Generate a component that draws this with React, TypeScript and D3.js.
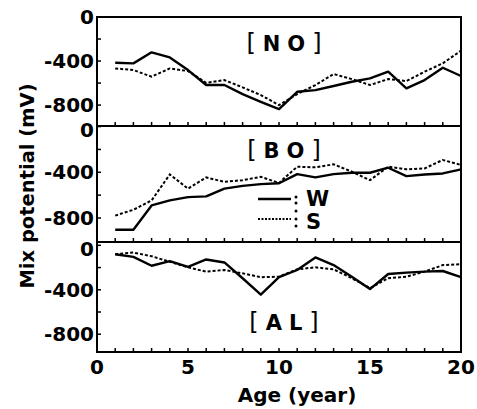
import React from "react";
import * as d3 from "d3";

const years = [1, 2, 3, 4, 5, 6, 7, 8, 9, 10, 11, 12, 13, 14, 15, 16, 17, 18, 19, 20];

const noW = [-415, -421, -321, -367, -482, -618, -618, -700, -770, -836, -679, -664, -627, -588, -558, -497, -648, -573, -461, -536];
const noS = [-467, -482, -542, -467, -491, -597, -573, -639, -709, -800, -700, -618, -518, -564, -618, -564, -582, -497, -421, -306];
const boW = [-903, -903, -690, -646, -617, -611, -543, -519, -504, -496, -416, -445, -416, -404, -404, -360, -434, -419, -410, -374];
const boS = [-779, -728, -646, -419, -543, -445, -484, -469, -440, -493, -351, -357, -330, -395, -469, -351, -374, -366, -292, -336];
const alW = [-80, -104, -184, -142, -193, -127, -154, -296, -444, -287, -222, -109, -178, -282, -394, -258, -246, -237, -231, -287];
const alS = [-80, -65, -98, -148, -198, -237, -222, -252, -287, -282, -216, -198, -216, -296, -385, -296, -282, -237, -178, -169];

const yTickLabels = [0, -400, -800];
const yMinorTicks = [0, -200, -400, -600, -800];
const xTickLabels = [0, 5, 10, 15, 20];
const panelNames = ["N O", "B O", "A L"];
const legendNames = ["W", "S"];

const FONT = "DejaVu Sans";

export default function App() {
  const W = 477, H = 409;
  const left = 97, right = 461;
  const x = d3.scaleLinear().domain([0, 20]).range([left, right]);

  const panels = [
    { name: panelNames[0], w: noW, s: noS, top: 17, bottom: 126, dom: [-990, 0], labelY: 43 },
    { name: panelNames[1], w: boW, s: boS, top: 126, bottom: 242, dom: [-1010, 5], labelY: 150 },
    { name: panelNames[2], w: alW, s: alS, top: 242, bottom: 352, dom: [-960, 30], labelY: 322 },
  ];

  return (
    <svg width={W} height={H} style={{ position: "absolute", left: 0, top: 0, background: "#fff" }} fontFamily={FONT}>
      <rect x={0} y={0} width={W} height={H} fill="#fff" />
      {panels.map((p, pi) => {
        const y = d3.scaleLinear().domain(p.dom).range([p.bottom, p.top]);
        const line = d3.line<number>().x((_, i) => x(years[i])).y((v) => y(v));
        const bracket = p.name.split(" ");
        return (
          <g key={pi}>
            <rect x={left} y={p.top} width={right - left} height={p.bottom - p.top} fill="none" stroke="#000" strokeWidth={2} />
            {years.slice(0, 19).map((yr) => (
              <line key={yr} x1={x(yr)} x2={x(yr)} y1={p.bottom} y2={p.bottom - 4} stroke="#000" strokeWidth={1.5} />
            ))}
            {yMinorTicks.map((t) => (
              <line key={t} x1={left} x2={left + 4} y1={y(t)} y2={y(t)} stroke="#000" strokeWidth={1.5} />
            ))}
            {yTickLabels.map((t) => (
              <text key={t} x={94} y={y(t) + (t === 0 && pi > 0 ? 3 : 0)} dy="0.36em" textAnchor="end" fontSize={20} fontWeight="bold">
                {t === 0 ? "0" : String(t)}
              </text>
            ))}
            <path d={line(p.w) || ""} fill="none" stroke="#000" strokeWidth={2.4} strokeLinejoin="round" />
            <path d={line(p.s) || ""} fill="none" stroke="#000" strokeWidth={2} strokeDasharray="3 2" />
            <text x={284} y={p.labelY} dy="0.36em" textAnchor="middle" fontSize={21}>
              <tspan fontWeight="normal" fontSize={24}>[</tspan>
              <tspan fontWeight="bold" dx={7}>{bracket[0]}</tspan>
              <tspan fontWeight="bold" dx={7}>{bracket[1]}</tspan>
              <tspan fontWeight="normal" fontSize={24} dx={7}>]</tspan>
            </text>
          </g>
        );
      })}
      {xTickLabels.map((t) => (
        <text key={t} x={x(t)} y={367} dy="0.36em" textAnchor="middle" fontSize={20} fontWeight="bold">
          {t}
        </text>
      ))}
      <text x={297} y={395} dy="0.36em" textAnchor="middle" fontSize={20} fontWeight="bold">
        Age (year)
      </text>
      <text transform="translate(27,186) rotate(-90)" dy="0.36em" textAnchor="middle" fontSize={19.5} fontWeight="bold">
        Mix potential (mV)
      </text>
      {/* legend */}
      <line x1={258} x2={291} y1={199} y2={199} stroke="#000" strokeWidth={2.4} />
      <line x1={258} x2={291} y1={219} y2={219} stroke="#000" strokeWidth={2} strokeDasharray="2 1.5" />
      {[197, 203, 211, 219, 226].map((cy) => (
        <circle key={cy} cx={296} cy={cy} r={1.5} fill="#000" />
      ))}
      <text x={306} y={198} dy="0.36em" fontSize={21} fontWeight="bold">{legendNames[0]}</text>
      <text x={306} y={221} dy="0.36em" fontSize={21} fontWeight="bold">{legendNames[1]}</text>
    </svg>
  );
}
